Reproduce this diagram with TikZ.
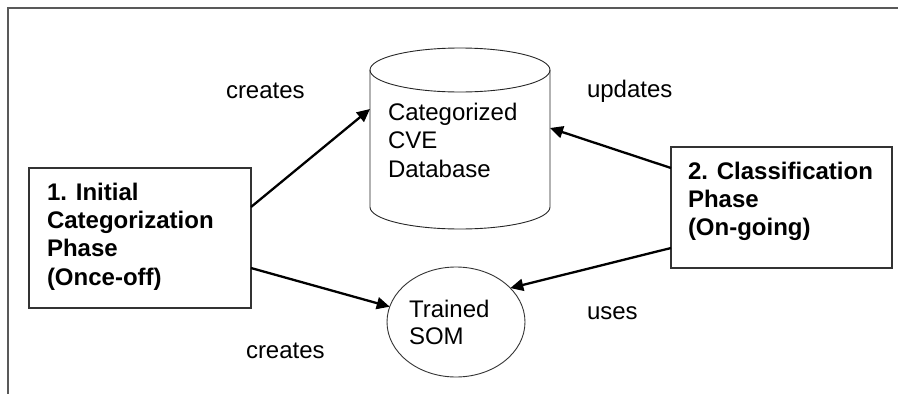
\documentclass[tikz,border=0pt]{standalone}
\usepackage{fontspec}
\setmainfont{Liberation Sans}
\usetikzlibrary{arrows.meta,shapes.geometric,calc}
\begin{document}
\begin{tikzpicture}[x=1pt,y=-1pt,
  every node/.style={inner sep=0pt, outer sep=0pt, font=\fontsize{24}{28.5}\selectfont},
  phasebox/.style={draw=black!80, line width=1.2pt, rectangle},
  body/.style={anchor=north west, align=left},
  boldbody/.style={body, font=\bfseries\fontsize{24}{28.3}\selectfont},
  lbl/.style={anchor=base west},
  link/.style={line width=2.3pt, -{Triangle[length=13pt,width=12pt]}},
  outline/.style={line width=0.9pt, draw=black!85},
]
\useasboundingbox (0,0) rectangle (898,394);

% frame of the drawing area
\draw[black!65, line width=1.2pt] (8,394) -- (8,8) -- (898,8);

% the two phases
\node[phasebox, minimum width=222pt, minimum height=140pt] (init) at (140,238) {};
\node[boldbody] (inittext) at (47,183) {1. Initial\\Categorization\\Phase\\(Once-off)};

\node[phasebox, minimum width=221pt, minimum height=121pt] (cls) at (781.5,207.5) {};
\node[boldbody] (clstext) at (688,162) {2. Classification\\Phase\\(On-going)};

% database cylinder
\node[minimum width=180pt, minimum height=181pt] (db) at (460,138.5) {};
\draw[outline] (370,70) -- (370,207)
  arc[start angle=180, end angle=360, x radius=90pt, y radius=22pt] -- (550,70);
\draw[outline] (460,70) ellipse [x radius=90pt, y radius=22pt];
\node[body] (dbtext) at (388,103) {Categorized\\CVE\\Database};

% trained map
\node[draw=black!80, line width=0.9pt, ellipse, minimum width=138pt, minimum height=110pt] (som) at (456,322) {};
\node[body, font=\fontsize{24}{27.5}\selectfont] (somtext) at (409,300) {Trained\\SOM};

% connectors
\draw[link] ($(init.east)+(0,-31)$) -- ($(db.west)+(0,-29.5)$);
\draw[link] ($(init.east)+(0,30)$) -- (som.167);
\draw[link] ($(cls.west)+(0,-39.5)$) -- ($(db.east)+(0,-10.5)$);
\draw[link] ($(cls.west)+(0,40.5)$) -- (som.32);

% connector labels
\node[lbl] (l1) at (226,98) {creates};
\node[lbl] (l2) at (587,97) {updates};
\node[lbl] (l3) at (587,319) {uses};
\node[lbl] (l4) at (246,358) {creates};
\end{tikzpicture}
\end{document}
